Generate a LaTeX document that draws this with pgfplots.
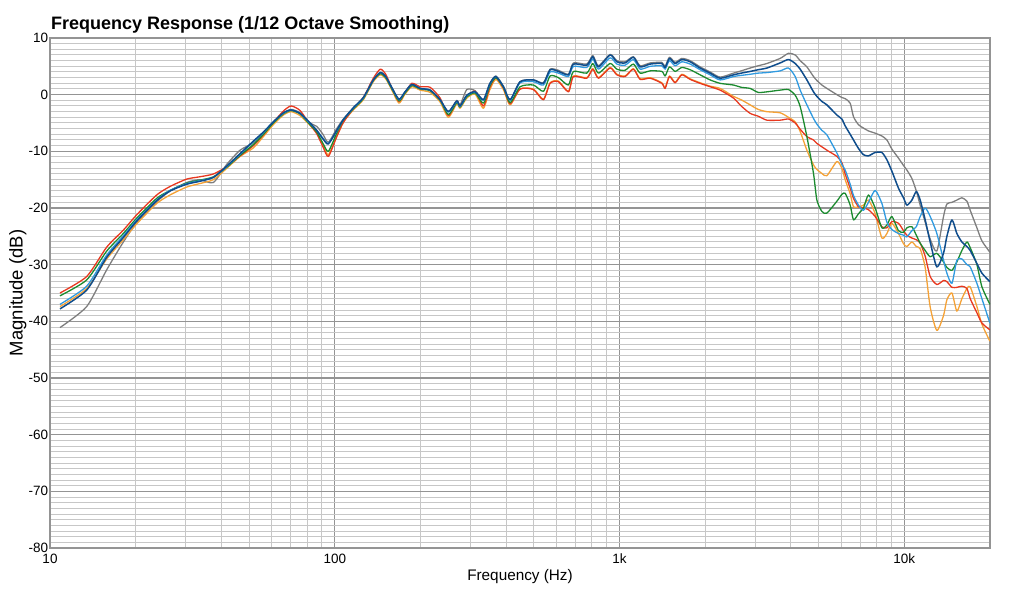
\documentclass[border=0pt]{standalone}
\usepackage{fontspec}
\setmainfont{Liberation Sans}
\usepackage{pgfplots}
\usepackage{pgfplotstable}
\pgfplotsset{compat=1.18}
\definecolor{cgr}{HTML}{7E7E7E}
\definecolor{cnv}{HTML}{0F4D8C}
\definecolor{clb}{HTML}{2F9AE0}
\definecolor{cgn}{HTML}{1B8A2E}
\definecolor{cor}{HTML}{F5A236}
\definecolor{crd}{HTML}{E8381F}
\pgfplotstableread{
f gr nv lb gn or rd
10.84 -41.1 -37.8 -37.0 -35.5 -37.4 -35.0
13.45 -37.4 -34.5 -33.8 -32.7 -34.2 -32.1
15.82 -30.9 -28.7 -28.3 -27.6 -29.0 -26.9
18.10 -26.0 -25.2 -24.9 -24.5 -25.6 -23.9
20.16 -22.6 -22.3 -22.1 -21.8 -22.8 -21.2
23.70 -18.9 -18.7 -18.6 -18.3 -19.2 -17.7
26.40 -17.0 -17.0 -16.9 -16.9 -17.7 -16.2
30.21 -15.5 -15.8 -15.7 -15.6 -16.3 -14.9
33.50 -15.0 -15.3 -15.2 -15.1 -15.7 -14.5
37.47 -15.5 -14.6 -14.6 -14.5 -15.0 -14.0
41.76 -12.3 -12.6 -12.7 -12.8 -13.0 -12.7
46.50 -9.8 -10.4 -10.5 -10.7 -10.9 -10.8
51.78 -8.5 -8.2 -8.3 -8.8 -9.4 -9.0
56.14 -6.9 -6.6 -6.7 -7.0 -7.4 -7.1
60.85 -4.9 -4.8 -4.8 -5.0 -5.3 -4.9
66.00 -3.3 -3.2 -3.3 -3.4 -3.6 -2.9
70.22 -2.6 -2.7 -2.7 -2.8 -3.0 -2.0
75.54 -3.2 -3.3 -3.3 -3.4 -3.7 -2.8
81.88 -5.0 -5.0 -5.1 -5.3 -5.4 -5.3
86.45 -5.6 -6.3 -6.3 -6.6 -6.7 -6.9
90.90 -7.0 -7.8 -7.7 -8.6 -8.9 -9.2
94.95 -8.4 -8.7 -8.6 -10.0 -10.6 -10.9
101.6 -6.0 -6.3 -6.4 -6.8 -7.4 -7.4
107.2 -4.3 -4.4 -4.4 -4.5 -4.8 -4.9
116.2 -2.4 -2.3 -2.4 -2.5 -2.7 -2.5
126.0 -0.6 -0.5 -0.6 -0.7 -0.9 -0.5
136.6 2.6 2.6 2.6 2.5 2.3 2.9
144.5 3.9 3.9 3.9 3.7 3.5 4.5
151.0 3.2 3.2 3.2 3.0 2.8 3.6
158.0 1.4 1.4 1.4 1.2 1.0 1.4
168.0 -0.9 -0.8 -0.9 -1.1 -1.5 -1.2
176.0 0.4 0.4 0.4 0.2 0.0 0.3
186.5 1.8 1.8 1.8 1.6 1.4 2.0
199.4 1.1 1.1 1.1 1.0 0.8 1.4
216.2 0.8 0.8 0.8 0.7 0.4 1.3
234.4 -0.9 -0.9 -0.9 -1.0 -1.3 -0.6
250.6 -3.0 -3.0 -3.1 -3.5 -4.0 -3.7
268.2 -1.0 -1.1 -1.2 -1.4 -1.6 -1.2
275.5 -1.8 -2.0 -2.1 -2.2 -2.4 -2.0
290.8 0.9 -0.1 -0.2 -0.4 -0.6 -0.3
311.0 0.7 0.5 0.5 0.3 0.1 0.6
332.6 -0.9 -0.9 -1.0 -1.5 -2.4 -2.0
350.0 1.9 1.9 1.8 1.5 0.8 1.2
367.8 3.3 3.2 3.2 3.0 2.7 3.0
391.0 1.5 1.4 1.4 1.3 0.9 1.2
412.8 -0.9 -0.9 -1.0 -1.4 -1.8 -1.6
447.7 2.3 2.3 2.1 1.4 1.0 1.0
498.4 2.6 2.6 2.3 1.7 1.0 0.9
540.4 2.1 2.0 1.7 0.6 -0.8 -0.9
570.4 4.5 4.4 4.0 3.3 2.1 2.0
610.2 4.3 4.1 3.8 3.0 2.4 2.3
661.6 3.6 3.5 3.2 1.7 0.6 0.5
688.9 5.6 5.4 5.0 4.1 3.3 3.2
767.7 5.4 5.2 4.8 3.8 3.0 2.9
805.9 6.9 6.7 6.3 5.5 4.6 4.5
843.3 5.1 4.9 4.5 3.8 3.0 2.9
926.8 7.1 7.0 6.5 5.5 4.8 4.7
978.6 6.0 5.8 5.4 4.5 3.6 3.5
1046 5.8 5.6 5.2 4.3 3.3 3.2
1119 6.7 6.6 6.2 5.4 4.6 4.5
1181 5.1 4.9 4.5 3.8 2.8 2.7
1281 5.6 5.4 5.0 4.2 3.0 2.9
1408 5.7 5.5 5.1 4.1 2.1 2.0
1446 5.0 4.8 4.5 3.3 1.2 1.1
1497 6.6 6.4 6.0 4.9 3.3 3.2
1568 5.7 5.5 5.1 4.1 2.2 2.1
1655 6.4 6.2 5.8 4.8 3.6 3.5
1770 6.0 5.8 5.4 4.4 2.8 2.7
1919 4.9 4.7 4.4 3.5 2.1 2.0
2081 4.0 3.8 3.5 2.6 1.5 1.4
2256 3.1 2.9 2.6 2.0 1.1 0.8
2513 3.8 3.5 3.2 1.7 -0.3 -0.6
2674 4.2 3.8 3.4 1.3 -0.9 -2.0
2875 4.7 4.1 3.6 1.1 -1.8 -3.3
3068 5.1 4.4 3.8 0.4 -2.6 -3.8
3292 5.5 4.7 3.9 0.5 -3.0 -4.5
3666 6.4 5.6 4.2 0.8 -3.2 -4.5
3920 7.3 6.2 4.7 0.9 -4.0 -4.3
4139 7.0 5.5 3.2 -0.1 -4.8 -5.0
4309 6.0 4.5 0.8 -2.1 -6.5 -6.1
4549 4.9 2.6 -1.8 -7.4 -9.8 -7.4
4799 3.2 0.5 -4.2 -13.9 -12.4 -8.0
4932 2.5 -0.3 -5.2 -18.6 -13.2 -8.6
5135 1.7 -1.2 -6.3 -20.6 -13.9 -9.2
5348 1.1 -1.8 -7.1 -20.9 -14.3 -9.8
5799 0.0 -3.6 -10.3 -18.8 -11.8 -10.9
6036 -0.5 -4.3 -12.3 -17.6 -13.0 -12.0
6200 -0.7 -5.5 -13.3 -17.4 -15.0 -14.0
6457 -1.5 -7.0 -15.8 -19.5 -17.5 -16.5
6632 -3.9 -8.0 -17.8 -22.1 -19.8 -18.3
6907 -5.3 -9.5 -19.5 -21.0 -19.8 -19.8
7190 -5.9 -10.6 -20.4 -20.0 -19.5 -20.0
7487 -6.4 -10.8 -19.0 -17.7 -18.6 -20.3
7903 -6.8 -10.2 -16.9 -20.0 -21.0 -21.5
8343 -7.3 -10.2 -19.2 -23.5 -25.3 -23.3
8688 -8.0 -11.5 -22.5 -23.0 -24.5 -23.5
9044 -9.6 -13.5 -23.8 -21.5 -22.7 -22.4
9541 -11.2 -16.5 -24.5 -24.0 -24.5 -22.7
9936 -12.5 -18.2 -24.8 -24.3 -26.3 -24.0
10210 -13.3 -19.5 -25.1 -23.5 -26.8 -24.8
10633 -14.8 -18.6 -24.0 -23.3 -26.0 -25.3
11020 -17.0 -17.1 -23.3 -24.8 -26.8 -25.6
11370 -19.5 -18.6 -21.5 -26.2 -27.2 -26.2
11840 -22.5 -22.1 -20.0 -27.5 -30.5 -28.5
12330 -25.5 -26.0 -21.5 -28.6 -37.5 -32.1
13010 -27.6 -30.4 -24.5 -28.0 -41.6 -33.5
13730 -21.5 -28.0 -29.2 -29.5 -39.0 -32.8
14110 -19.3 -25.0 -31.5 -30.5 -36.2 -33.0
14700 -19.0 -22.1 -33.3 -31.0 -35.0 -34.0
15300 -18.6 -24.5 -29.2 -29.5 -38.2 -34.0
15930 -18.2 -26.0 -29.0 -27.5 -36.0 -33.8
16590 -18.8 -26.8 -30.0 -26.0 -34.2 -34.2
17040 -20.4 -27.5 -30.4 -27.0 -33.9 -36.0
17990 -23.5 -29.8 -33.3 -30.0 -37.4 -38.5
18730 -25.8 -31.5 -36.0 -33.9 -40.5 -40.3
19980 -27.8 -33.0 -40.3 -37.0 -43.5 -41.5
}\fr
\begin{document}
\begin{tikzpicture}
\useasboundingbox (-50pt,-44pt) rectangle (974pt,548pt);
\begin{axis}[
  at={(0,0)}, anchor=south west,
  scale only axis, width=940pt, height=510pt,
  xmode=log, xmin=10, xmax=20000, ymin=-80, ymax=10,
  xtick={10,100,1000,10000}, xticklabels={10,100,1k,10k},
  minor xtick={20,30,40,50,60,70,80,90,200,300,400,500,600,700,800,900,2000,3000,4000,5000,6000,7000,8000,9000},
  ytick={-80,-70,-60,-50,-40,-30,-20,-10,0,10},
  yticklabels={-80,-70,-60,-50,-40,-30,-20,-10,0,10},
  minor ytick={-79,-78,...,9},
  grid=both,
  major grid style={draw=black!42, line width=1.2pt},
  minor grid style={draw=black!22, line width=1.0pt},
  axis line style={draw=black!42, line width=1.2pt},
  major tick length=0pt, minor tick length=0pt,
  tick label style={font=\fontsize{13.5}{15}\selectfont, inner sep=0pt},
  xticklabel style={anchor=base, yshift=-15.5pt},
  yticklabel style={anchor=east, xshift=-1.7pt},
  xlabel={Frequency (Hz)}, ylabel={Magnitude (dB)},
  xlabel style={at={(axis description cs:0.5,0)}, anchor=base, yshift=-32pt, font=\fontsize{15.3}{17}\selectfont, inner sep=0pt},
  ylabel style={at={(axis description cs:-0.029,0.5)}, anchor=base, font=\fontsize{18.5}{20}\selectfont, inner sep=0pt},
  title={Frequency Response (1/12 Octave Smoothing)},
  title style={at={(axis description cs:0,1)}, anchor=base west, xshift=1pt, yshift=2pt, font=\bfseries\fontsize{18}{20}\selectfont, inner sep=0pt},
  every axis plot/.append style={line width=1.3pt, line join=round, smooth, tension=0.4, mark=none},
]
\addplot[cgr] table[x=f,y=gr]{\fr};
\addplot[cor] table[x=f,y=or]{\fr};
\addplot[crd] table[x=f,y=rd]{\fr};
\addplot[cgn] table[x=f,y=gn]{\fr};
\addplot[clb] table[x=f,y=lb]{\fr};
\addplot[cnv, line width=1.5pt] table[x=f,y=nv]{\fr};
\end{axis}
\end{tikzpicture}
\end{document}
